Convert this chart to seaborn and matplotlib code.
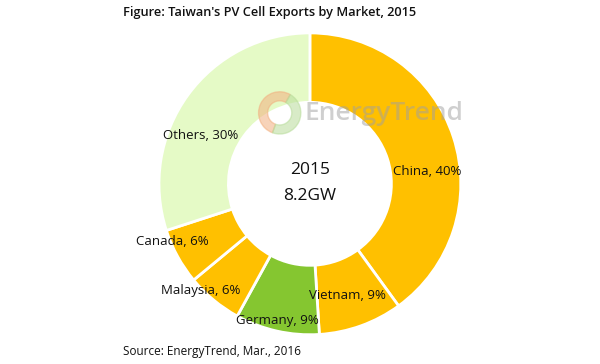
import numpy as np
import matplotlib
matplotlib.use('Agg')
import matplotlib.pyplot as plt
from matplotlib.patches import Wedge
import seaborn as sns

# data
markets = ['China', 'Vietnam', 'Germany', 'Malaysia', 'Canada', 'Others']
shares = [40, 9, 9, 6, 6, 30]
colors = ['#FFC000', '#FFC000', '#85C630', '#FFC000', '#FFC000', '#E5FAC6']
center_year = '2015'
center_total = '8.2GW'

# label placement (radius as fraction of outer radius, angle nudge in degrees)
label_radius = [0.78, 0.78, 0.93, 1.01, 0.99, 0.79]
label_nudge = [-12, -1, -1, -6, -6, 12]

sns.set_theme(style='white')
plt.rcParams['font.family'] = ['Open Sans', 'DejaVu Sans']

fig = plt.figure(figsize=(6, 3.64), dpi=100)
ax = fig.add_axes([0.265, 0.08, 0.503, 0.83])

wedges, _ = ax.pie(shares, colors=colors, startangle=90, counterclock=False,
                   wedgeprops=dict(width=0.46, edgecolor='white', linewidth=2))
ax.set_xlim(-1, 1)
ax.set_ylim(-1, 1)
ax.set_aspect('equal')

for w, name, pct, r, nudge in zip(wedges, markets, shares, label_radius, label_nudge):
    ang = np.deg2rad((w.theta1 + w.theta2) / 2 + nudge)
    ax.text(r * np.cos(ang), r * np.sin(ang), f'{name}, {pct}%',
            ha='center', va='center', fontsize=9.5, color='#111111')

ax.text(0, 0.09, center_year, ha='center', va='center', fontsize=12.5, color='#111111')
ax.text(0, -0.08, center_total, ha='center', va='center', fontsize=12.5, color='#111111')

# watermark logo + name
ax.add_patch(Wedge((-0.2, 0.47), 0.14, 60, 250, width=0.06,
                   color='#F2B080', alpha=0.55, clip_on=False))
ax.add_patch(Wedge((-0.2, 0.47), 0.14, 250, 420, width=0.06,
                   color='#B8DC9A', alpha=0.55, clip_on=False))
fig.text(0.508, 0.688, 'EnergyTrend', fontsize=19, fontweight='semibold',
         color='#a0a0a0', alpha=0.5, ha='left', va='center')

fig.text(0.205, 0.965, "Figure: Taiwan's PV Cell Exports by Market, 2015",
         fontsize=9.2, fontweight='semibold', color='#111111', ha='left', va='center')
fig.text(0.205, 0.033, 'Source: EnergyTrend, Mar., 2016',
         fontsize=8.5, color='#111111', ha='left', va='center')

fig.savefig('out.png', dpi=100)
